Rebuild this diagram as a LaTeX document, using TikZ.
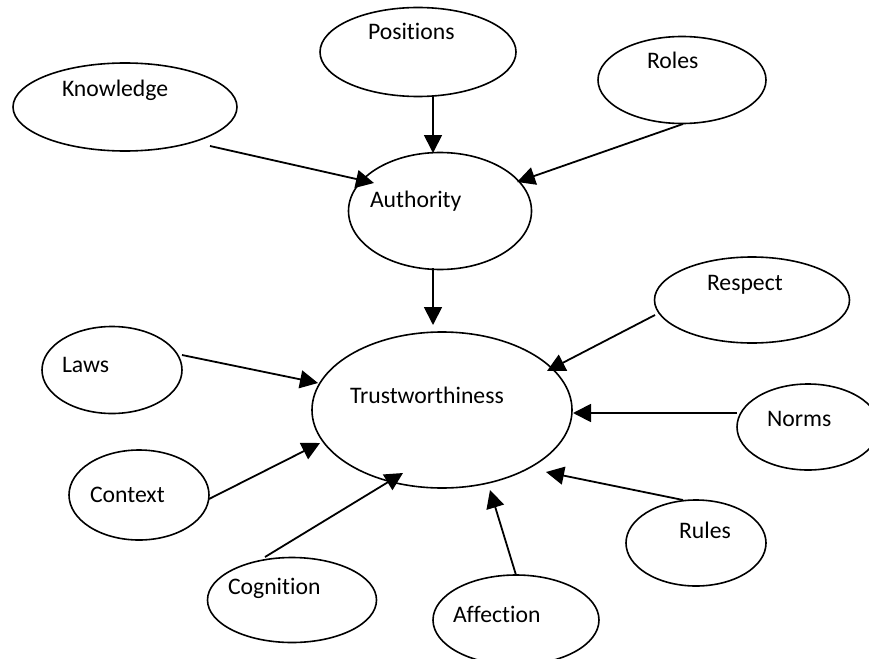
\documentclass[tikz,border=0pt]{standalone}
\usepackage{fontspec}
\setmainfont{Carlito}[Ligatures={NoCommon}]
\usetikzlibrary{shapes.geometric,arrows.meta,calc}
\begin{document}
\begin{tikzpicture}[x=1pt,y=-1pt,
  bubble/.style={draw, ellipse, line width=1.6pt, inner sep=0pt, outer sep=0pt},
  word/.style={anchor=base west, inner sep=0pt, outer sep=0pt,
    font=\fontsize{23.7}{28}\selectfont},
  link/.style={line width=1.8pt, -{Triangle[length=18pt,width=18pt]}}]
\clip (0,0) rectangle (869,658);
\fill[white] (0,0) rectangle (869,658);

% ellipses
\node[bubble, minimum width=224pt, minimum height=88pt] (kno) at (125,107) {};
\node[bubble, minimum width=196pt, minimum height=89pt] (pos) at (418,52) {};
\node[bubble, minimum width=168pt, minimum height=87pt] (rol) at (682,80) {};
\node[bubble, minimum width=183pt, minimum height=117pt] (aut) at (440,211) {};
\node[bubble, minimum width=195pt, minimum height=86pt] (res) at (752,300) {};
\node[bubble, minimum width=142pt, minimum height=86pt] (nor) at (808,427) {};
\node[bubble, minimum width=140pt, minimum height=87pt] (law) at (112,370) {};
\node[bubble, minimum width=260pt, minimum height=156pt] (tru) at (442,410) {};
\node[bubble, minimum width=140pt, minimum height=90pt] (con) at (139,495) {};
\node[bubble, minimum width=169pt, minimum height=85pt] (cog) at (292,600) {};
\node[bubble, minimum width=166pt, minimum height=90pt] (aff) at (516,620) {};
\node[bubble, minimum width=140pt, minimum height=86pt] (rul) at (696,543) {};

% labels
\node[word] (kno-t) at (62,96) {Knowledge};
\node[word] (pos-t) at (368,40) {Positions};
\node[word] (rol-t) at (647,69) {Roles};
\node[word] (aut-t) at (370,207) {Authority};
\node[word] (res-t) at (707,290) {Respect};
\node[word] (nor-t) at (767,426) {Norms};
\node[word] (law-t) at (62,372) {Laws};
\node[word] (tru-t) at (350,403) {Trustworthiness};
\node[word] (con-t) at (90,502) {Context};
\node[word] (cog-t) at (228,594) {Cognition};
\node[word] (aff-t) at (453,622) {Affection};
\node[word] (rul-t) at (679,538) {Rules};

% connectors
\draw[link] ($(kno.center)+(85,39)$) -- ($(aut.center)+(-66,-28)$);
\draw[link] ($(pos.center)+(15,44)$) -- ($(aut.center)+(-7,-58)$);
\draw[link] ($(rol.center)+(1,44)$) -- ($(aut.center)+(77,-29)$);
\draw[link] ($(aut.center)+(-7,57)$) -- ($(tru.center)+(-9,-85)$);
\draw[link] ($(res.center)+(-97,15)$) -- ($(tru.center)+(105,-39)$);
\draw[link] ($(nor.center)+(-71,-14)$) -- ($(tru.center)+(131,3)$);
\draw[link] ($(rul.center)+(-13,-43)$) -- ($(tru.center)+(104,62)$);
\draw[link] ($(aff.center)+(0,-45)$) -- ($(tru.center)+(48,80)$);
\draw[link] ($(cog.center)+(-27,-43)$) -- ($(tru.center)+(-39,63)$);
\draw[link] ($(con.center)+(70,4)$) -- ($(tru.center)+(-122,33)$);
\draw[link] ($(law.center)+(70,-15)$) -- ($(tru.center)+(-124,-27)$);
\end{tikzpicture}
\end{document}
